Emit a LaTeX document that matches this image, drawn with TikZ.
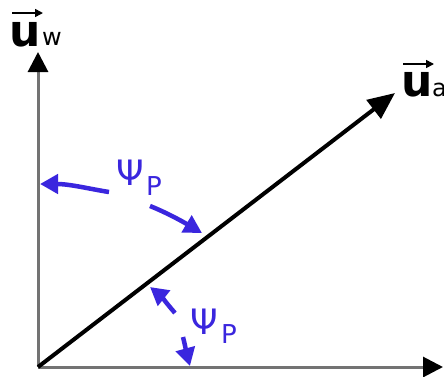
\documentclass[tikz,border=0pt]{standalone}
\usepackage{fontspec}
\setmainfont{DejaVu Sans}
\usetikzlibrary{arrows.meta}
\definecolor{psiblue}{RGB}{58,38,222}
\definecolor{axisgray}{RGB}{115,115,115}
\begin{document}
\begin{tikzpicture}[x=1pt,y=-1pt,
  axisline/.style={draw=axisgray,line width=3pt,-{Triangle[length=20pt,width=20pt,color=black]}},
  diagline/.style={draw=black,line width=4pt,-{Triangle[length=27pt,width=23pt]}},
  psiarrow/.style={draw=psiblue,line width=4.5pt,-{Triangle[length=18pt,width=19pt]}},
  vecarrow/.style={draw=black,line width=1.6pt,-{Triangle[length=8pt,width=8pt]}},
  vlab/.style={inner sep=0pt,anchor=base west,font=\fontsize{44}{44}\selectfont\bfseries},
  vsub/.style={inner sep=0pt,anchor=base west,font=\fontsize{24}{24}\selectfont},
  psilab/.style={inner sep=0pt,anchor=base west,text=psiblue,font=\fontsize{35}{35}\selectfont},
  psisub/.style={inner sep=0pt,anchor=base west,text=psiblue,font=\fontsize{26}{26}\selectfont}]
\useasboundingbox (0,0) rectangle (444,376);
\fill[white] (0,0) rectangle (444,376);
% axes
\coordinate (O) at (38,367);
\coordinate (Ytip) at (38,52);
\coordinate (Xtip) at (443,367);
\coordinate (Atip) at (395,93);
\draw[axisline] (O) -- (Ytip);
\draw[axisline] (O) -- (Xtip);
\draw[diagline] (O) -- (Atip);
% u_w label
\node[vlab] (uw) at (9,46) {u};
\node[vsub] (uwsub) at (42,45) {w};
\coordinate (uwv1) at (12,13);
\coordinate (uwv2) at (43,13);
\draw[vecarrow] (uwv1) -- (uwv2);
% u_a label
\node[vlab] (ua) at (401,96) {u};
\node[vsub] (uasub) at (432,96) {a};
\coordinate (uav1) at (403,64);
\coordinate (uav2) at (434,64);
\draw[vecarrow] (uav1) -- (uav2);
% psi labels
\node[psilab] (psi1) at (116,185) {Ψ};
\node[psisub] (psi1s) at (146,195) {P};
\node[psilab] (psi2) at (190,334) {Ψ};
\node[psisub] (psi2s) at (221,343) {P};
% blue arrows
\coordinate (a1s) at (109,192);
\coordinate (a1e) at (40,184);
\draw[psiarrow] (a1s) .. controls (90,189) and (70,184) .. (a1e);
\coordinate (a2s) at (150,206);
\coordinate (a2e) at (202,233);
\draw[psiarrow] (a2s) .. controls (165,212) and (180,220) .. (a2e);
\coordinate (a3s) at (175,313);
\coordinate (a3e) at (150,287);
\draw[psiarrow] (a3s) .. controls (168,305) and (160,295) .. (a3e);
\coordinate (a4s) at (183,337);
\coordinate (a4e) at (190,366);
\draw[psiarrow] (a4s) .. controls (185,345) and (187,355) .. (a4e);
\end{tikzpicture}
\end{document}
